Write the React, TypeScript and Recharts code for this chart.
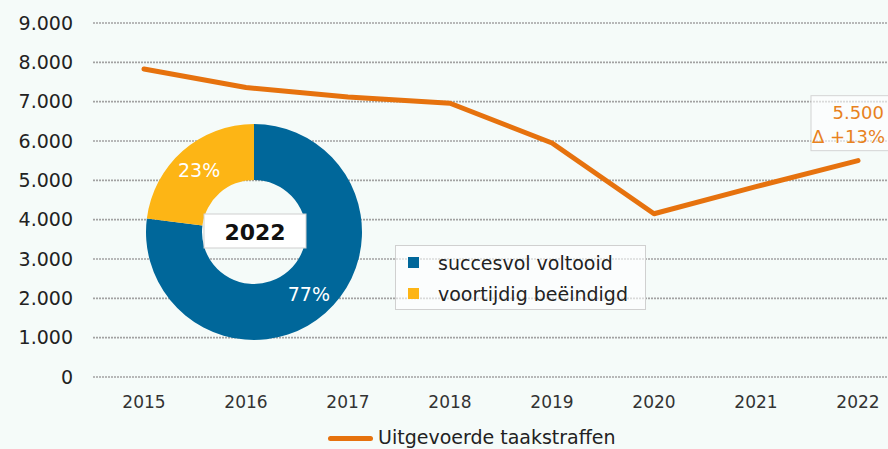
import { LineChart, Line, XAxis, YAxis, CartesianGrid, Legend, LabelList, PieChart, Pie, Cell } from "recharts";

const years = ["2015", "2016", "2017", "2018", "2019", "2020", "2021", "2022"];
const taakstraffen = [7830, 7360, 7120, 6960, 5950, 4150, 4840, 5500];
const yTicks = [0, 1000, 2000, 3000, 4000, 5000, 6000, 7000, 8000, 9000];
const lineName = "Uitgevoerde taakstraffen";
const lastDelta = "Δ +13%";

const pieYear = "2022";
const pieNames = ["succesvol voltooid", "voortijdig beëindigd"];
const pieValues = [77, 23];
const pieColors = ["#00679a", "#fdb515"];

const lineData = years.map((year, i) => ({ year, value: taakstraffen[i] }));
const pieData = pieNames.map((name, i) => ({ name, value: pieValues[i] }));

const font = "'DejaVu Sans', Verdana, sans-serif";
const orange = "#e6720e";
const fmt = (v: number) => String(v).replace(/\B(?=(\d{3})+(?!\d))/g, ".");

// value box above the last point, text kept inside the 888px frame
const Annotation = (props: any) => {
  const { x, y, index, value } = props;
  if (index !== years.length - 1) return null;
  return (
    <g>
      <rect x={x - 47} y={y - 65} width={92} height={55} fill="rgba(255,255,255,0.6)" stroke="#d4d4d4" />
      <text x={x + 26} y={y - 42} textAnchor="end" fill="#e8821e" fontSize={18} fontFamily={font}>
        {fmt(value)}
      </text>
      <text x={x + 27} y={y - 18} textAnchor="end" fill="#e8821e" fontSize={18} fontFamily={font}>
        {lastDelta}
      </text>
    </g>
  );
};

const LineLegend = () => (
  <div style={{ display: "flex", alignItems: "center", height: 22, fontFamily: font, fontSize: 19, color: "#222", whiteSpace: "nowrap" }}>
    <span style={{ display: "inline-block", width: 45, height: 5, borderRadius: 3, background: orange, marginRight: 5, transform: "translateY(1px)" }} />
    <span>{lineName}</span>
  </div>
);

const PieLegend = (props: any) => {
  const items = props.payload || [];
  return (
    <div style={{ width: 249, height: 62, border: "1px solid #d0d0d0", background: "rgba(255,255,255,0.6)", fontFamily: font, fontSize: 19, color: "#222", paddingTop: 1 }}>
      {items.map((item: any, i: number) => (
        <div key={i} style={{ display: "flex", alignItems: "center", height: 31 }}>
          <span style={{ display: "inline-block", width: 11, height: 11, background: pieColors[i], marginLeft: 12, marginRight: 19 }} />
          <span>{item.value}</span>
        </div>
      ))}
    </div>
  );
};

const RADIAN = Math.PI / 180;
// percent in each slice; the first slice also draws the year box in the hole
const pctLabel = (props: any) => {
  const { cx, cy, midAngle, innerRadius, outerRadius, value, index } = props;
  const r = (innerRadius + outerRadius) / 2 + 3;
  const x = cx + r * Math.cos(-midAngle * RADIAN);
  const y = cy + r * Math.sin(-midAngle * RADIAN);
  return (
    <g>
      <text x={x} y={y} fill="#fff" textAnchor="middle" dominantBaseline="central" fontSize={19} fontFamily={font}>
        {value}%
      </text>
      {index === 0 && (
        <g>
          <rect x={cx - 50} y={cy - 18} width={102} height={34} fill="#fff" stroke="#cfcfcf" />
          <text x={cx + 1} y={cy} textAnchor="middle" dominantBaseline="central" fontSize={22} fontWeight="bold" fontFamily={font} fill="#111">
            {pieYear}
          </text>
        </g>
      )}
    </g>
  );
};

export default function App() {
  return (
    <div style={{ position: "fixed", left: 0, top: 0, width: 888, height: 449, overflow: "hidden", background: "#f5fbf9" }}>
      <LineChart width={920} height={449} data={lineData} margin={{ top: 23, right: 11, bottom: 0, left: 0 }}>
        <CartesianGrid vertical={false} stroke="#a2a2a2" strokeWidth={1.6} strokeDasharray="2 1" />
        <XAxis
          dataKey="year"
          axisLine={false}
          tickLine={false}
          tickSize={0}
          tickMargin={19}
          height={50}
          padding={{ left: 51, right: 51 }}
          tick={{ fontSize: 17, fill: "#333", fontFamily: font }}
        />
        <YAxis
          domain={[0, 9000]}
          ticks={yTicks}
          tickFormatter={fmt}
          axisLine={false}
          tickLine={false}
          tickSize={0}
          tickMargin={20}
          width={93}
          tick={{ fontSize: 19, fill: "#222", fontFamily: font }}
        />
        <Legend content={LineLegend} wrapperStyle={{ left: 328, top: 426, bottom: "auto", width: "auto" }} />
        <Line
          type="linear"
          dataKey="value"
          name={lineName}
          stroke={orange}
          strokeWidth={5}
          strokeLinecap="round"
          strokeLinejoin="round"
          dot={false}
          isAnimationActive={false}
        >
          <LabelList dataKey="value" content={Annotation} />
        </Line>
      </LineChart>
      <div style={{ position: "absolute", left: 0, top: 0 }}>
        <PieChart width={888} height={449} margin={{ top: 0, right: 0, bottom: 0, left: 0 }}>
          <Pie
            data={pieData}
            dataKey="value"
            nameKey="name"
            cx={254}
            cy={232}
            innerRadius={52}
            outerRadius={108}
            startAngle={90}
            endAngle={-270}
            stroke="none"
            label={pctLabel}
            labelLine={false}
            isAnimationActive={false}
          >
            {pieData.map((d, i) => (
              <Cell key={d.name} fill={pieColors[i]} />
            ))}
          </Pie>
          <Legend content={PieLegend} wrapperStyle={{ left: 395, top: 245, bottom: "auto", width: 251 }} />
        </PieChart>
      </div>
    </div>
  );
}
